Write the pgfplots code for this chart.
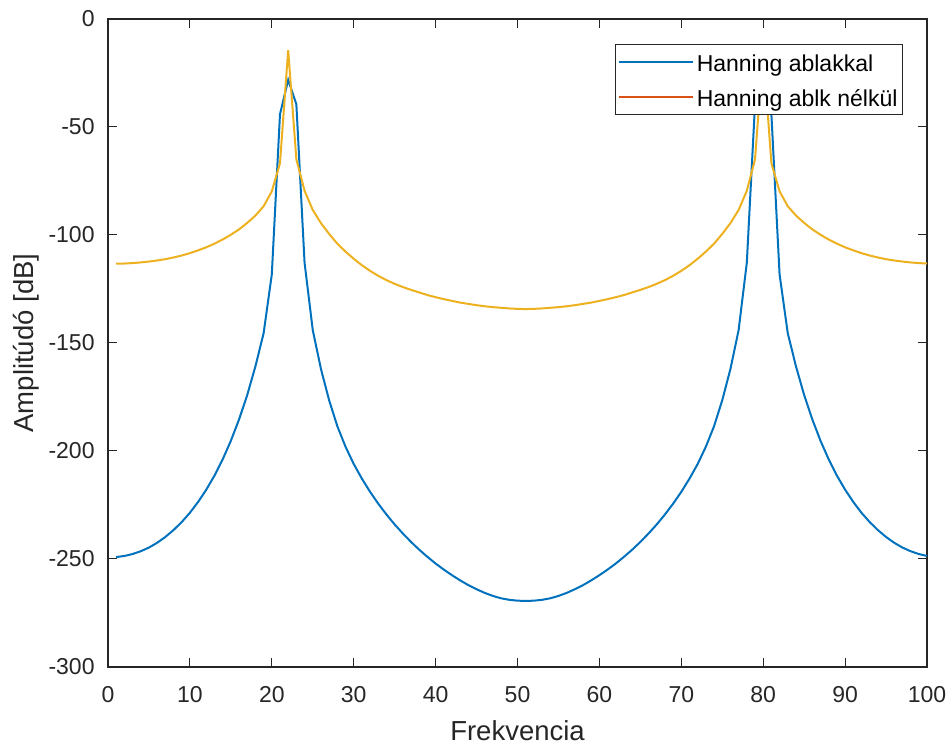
\documentclass[border=0pt]{standalone}
\usepackage{fontspec}
\setmainfont{Liberation Sans}
\usepackage{pgfplots}
\pgfplotsset{compat=1.18}
\usepackage{pgfplotstable}
\definecolor{mBlue}{rgb}{0,0.447,0.741}
\definecolor{mOrange}{rgb}{0.85,0.325,0.098}
\definecolor{mYellow}{rgb}{0.929,0.694,0.125}
\definecolor{axgray}{rgb}{0.15,0.15,0.15}

\pgfplotstableread{
x y
1 -249.1
2 -248.6
3 -247.7
4 -246.4
5 -244.7
6 -242.5
7 -239.8
8 -236.6
9 -232.9
10 -228.6
11 -223.6
12 -217.9
13 -211.4
14 -203.9
15 -195.3
16 -185.4
17 -174.1
18 -160.8
19 -145.5
20 -118.3
21 -44.1
22 -28.2
23 -39.5
24 -112.8
25 -144.0
26 -162.0
27 -176.5
28 -188.5
29 -198.0
30 -206.0
31 -212.8
32 -218.9
33 -224.4
34 -229.4
35 -234.0
36 -238.2
37 -242.1
38 -245.7
39 -249.0
40 -252.1
41 -254.9
42 -257.5
43 -259.9
44 -262.1
45 -264.0
46 -265.7
47 -267.1
48 -268.2
49 -268.9
50 -269.3
51 -269.4
52 -269.3
53 -268.9
54 -268.2
55 -267.1
56 -265.7
57 -264.0
58 -262.1
59 -259.9
60 -257.5
61 -254.9
62 -252.1
63 -249.0
64 -245.7
65 -242.1
66 -238.2
67 -234.0
68 -229.4
69 -224.4
70 -218.9
71 -212.8
72 -206.0
73 -198.0
74 -188.5
75 -176.5
76 -162.0
77 -144.0
78 -112.8
79 -39.5
80 -28.2
81 -44.1
82 -118.3
83 -145.5
84 -160.8
85 -174.1
86 -185.4
87 -195.3
88 -203.9
89 -211.4
90 -217.9
91 -223.6
92 -228.6
93 -232.9
94 -236.6
95 -239.8
96 -242.5
97 -244.7
98 -246.4
99 -247.7
100 -248.6
}\blueTable

\pgfplotstableread{
x y
1 -113.3
2 -113.2
3 -113.0
4 -112.7
5 -112.3
6 -111.8
7 -111.2
8 -110.4
9 -109.5
10 -108.4
11 -107.1
12 -105.7
13 -104.0
14 -102.1
15 -99.9
16 -97.4
17 -94.4
18 -91.0
19 -86.7
20 -79.8
21 -66.8
22 -14.4
23 -65.0
24 -79.5
25 -88.4
26 -94.5
27 -99.5
28 -104.0
29 -107.7
30 -111.0
31 -114.0
32 -116.6
33 -118.9
34 -120.9
35 -122.6
36 -124.1
37 -125.4
38 -126.6
39 -127.8
40 -128.8
41 -129.7
42 -130.5
43 -131.3
44 -131.9
45 -132.5
46 -133.0
47 -133.4
48 -133.7
49 -134.0
50 -134.2
51 -134.3
52 -134.2
53 -134.0
54 -133.7
55 -133.4
56 -133.0
57 -132.5
58 -131.9
59 -131.3
60 -130.5
61 -129.7
62 -128.8
63 -127.8
64 -126.6
65 -125.4
66 -124.1
67 -122.6
68 -120.9
69 -118.9
70 -116.6
71 -114.0
72 -111.0
73 -107.7
74 -104.0
75 -99.5
76 -94.5
77 -88.4
78 -79.5
79 -65.0
80 -14.4
81 -66.8
82 -79.8
83 -86.7
84 -91.0
85 -94.4
86 -97.4
87 -99.9
88 -102.1
89 -104.0
90 -105.7
91 -107.1
92 -108.4
93 -109.5
94 -110.4
95 -111.2
96 -111.8
97 -112.3
98 -112.7
99 -113.0
100 -113.2
}\yellowTable

\begin{document}
\begin{tikzpicture}
\begin{axis}[
  name=ax,
  scale only axis,
  width=409.5bp, height=324bp,
  xmin=0, xmax=100, ymin=-300, ymax=0,
  xtick={0,10,...,100},
  ytick={-300,-250,...,0},
  tick align=inside,
  major tick length=4.5bp,
  tick style={axgray, line width=0.5bp},
  axis line style={axgray, line width=1bp},
  /pgf/number format/assume math mode=true,
  tick label style={font=\fontsize{11.5bp}{13bp}\selectfont, text=axgray},
  yticklabel style={xshift=-3.2bp},
  xticklabel style={yshift=-6bp},
  xlabel={Frekvencia},
  ylabel={Amplitúdó [dB]},
  xlabel style={at={(axis description cs:0.5,-0.1127)}, anchor=base,
    font=\fontsize{13.75bp}{16bp}\selectfont, text=axgray},
  ylabel style={at={(axis description cs:-0.0912,0.5)}, anchor=base,
    font=\fontsize{13.75bp}{16bp}\selectfont, text=axgray},
  legend style={at={(1,1)}, anchor=north east, xshift=-12bp, yshift=-12.5bp,
    draw=axgray, line width=0.5bp, fill=white,
    inner xsep=1bp, inner ysep=0bp, row sep=0bp, column sep=0bp,
    font=\fontsize{11.5bp}{13bp}\selectfont,
    cells={anchor=west},
    nodes={inner xsep=1.5bp, inner ysep=3bp, text height=10.5bp, text depth=1bp}},
  legend image code/.code={\draw[#1] (1.5bp,0bp) -- (38.5bp,0bp);},
]
\addplot[color=mBlue, line width=1bp] table[x=x, y=y] {\blueTable};
\addlegendentry{Hanning ablakkal}
\addlegendimage{color=mOrange, line width=1bp}
\addlegendentry{Hanning ablk nélkül}
\addplot[color=mYellow, line width=1bp, forget plot] table[x=x, y=y] {\yellowTable};
\end{axis}
\pgfresetboundingbox
\path ([xshift=-54bp,yshift=-39bp]ax.south west) rectangle ([xshift=10.5bp,yshift=9.5bp]ax.north east);
\end{tikzpicture}
\end{document}
